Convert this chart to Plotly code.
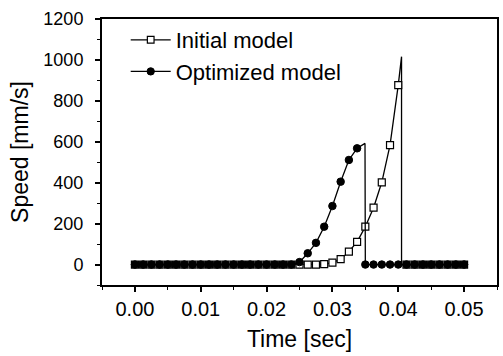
import plotly.graph_objects as go

# time grid (s), step 0.00125
time = [round(i * 0.00125, 5) for i in range(41)]

# Initial model speed (mm/s) at each grid point
initial_speed = [0]*20 + [0, 0, 0, 2, 9, 26, 63, 111, 185, 278, 402, 584, 877] + [0]*8
# peak just before the drop (no marker)
initial_peak_t = 0.0405
initial_peak_v = 1016

# Optimized model speed (mm/s)
optimized_speed = [0]*20 + [12, 55, 106, 185, 286, 405, 511, 568] + [0]*13
optimized_peak_t = 0.03495
optimized_peak_v = 592


def with_peak(t, v, pt, pv, drop_to_zero, msize):
    xs, ys, sz = [], [], []
    inserted = False
    for ti, vi in zip(t, v):
        if not inserted and ti > pt:
            xs.append(pt); ys.append(pv); sz.append(0)
            if drop_to_zero:
                xs.append(pt); ys.append(0); sz.append(0)
            inserted = True
        xs.append(ti); ys.append(vi); sz.append(msize)
    return xs, ys, sz


ix, iy, isz = with_peak(time, initial_speed, initial_peak_t, initial_peak_v, True, 7)
ox, oy, osz = with_peak(time, optimized_speed, optimized_peak_t, optimized_peak_v, False, 7.5)

font_family = "Liberation Sans, Arial, sans-serif"

fig = go.Figure()
fig.add_trace(go.Scatter(
    x=ix, y=iy, mode="lines+markers", name="Initial model",
    line=dict(color="#000000", width=1.3),
    marker=dict(symbol="square", size=isz, color="#ffffff", opacity=1,
                line=dict(width=1.2, color="#000000")),
))
fig.add_trace(go.Scatter(
    x=ox, y=oy, mode="lines+markers", name="Optimized model",
    line=dict(color="#000000", width=1.3),
    marker=dict(symbol="circle", size=osz, color="#000000", opacity=1,
                line=dict(width=1, color="#000000")),
))

fig.update_layout(
    width=503, height=356,
    margin=dict(l=102, r=4, t=19, b=71),
    paper_bgcolor="white", plot_bgcolor="white",
    font=dict(family=font_family, color="black", size=19),
    showlegend=True,
    legend=dict(x=0.06, y=1.0, xanchor="left", yanchor="top",
                bgcolor="rgba(0,0,0,0)", font=dict(size=22),
                tracegroupgap=0, itemwidth=40),
)
fig.update_xaxes(
    range=[-0.005, 0.055], tick0=0, dtick=0.01, tickformat=".2f",
    tickfont=dict(size=20),
    ticks="outside", ticklen=5, tickwidth=1.5, tickcolor="black",
    minor=dict(dtick=0.005, ticks="outside", ticklen=3, tickwidth=1.2, tickcolor="black"),
    showline=True, linewidth=2, linecolor="black", mirror=True,
    showgrid=False, zeroline=False,
    title=dict(text="Time [sec]", font=dict(size=23), standoff=12),
)
fig.update_yaxes(
    range=[-100, 1200], tick0=0, dtick=200,
    tickfont=dict(size=18), ticklabelstandoff=8,
    ticks="outside", ticklen=5, tickwidth=1.5, tickcolor="black",
    minor=dict(dtick=100, ticks="outside", ticklen=3, tickwidth=1.2, tickcolor="black"),
    showline=True, linewidth=2, linecolor="black", mirror=True,
    showgrid=False, zeroline=False,
    title=dict(text="Speed [mm/s]", font=dict(size=23), standoff=8),
)

fig.write_html("out.html")
